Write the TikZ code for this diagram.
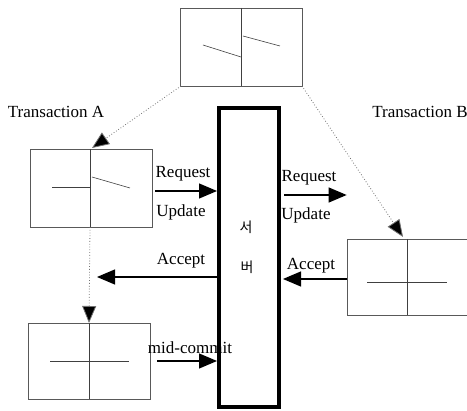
\documentclass[tikz,border=0pt]{standalone}
\usepackage{fontspec}
\setmainfont{Liberation Serif}
\newfontfamily\krfont{Noto Sans CJK KR}
\usetikzlibrary{arrows.meta}
\begin{document}
\begin{tikzpicture}[x=1pt,y=-1pt,
  txbox/.style={draw=black!65,line width=0.7pt,rectangle,minimum width=122pt,minimum height=78pt,inner sep=0pt},
  part/.style={draw=black!75,line width=0.6pt},
  arr/.style={draw=black,line width=1.2pt,-{Triangle[length=18pt,width=15pt]}},
  dotarr/.style={draw=black!55,line width=0.8pt,dotted,-{Triangle[length=17pt,width=14pt,fill=black]}},
  lbl/.style={font=\fontsize{17}{19}\selectfont,inner sep=0pt},
  kr/.style={font=\krfont\fontsize{14}{16}\selectfont,inner sep=0pt}]
\useasboundingbox (0,0) rectangle (467,411);
% boxes
\node[txbox] (top) at (241.5,47) {};
\node[txbox] (boxA) at (91,188) {};
\node[txbox,minimum height=76pt] (boxC) at (89,361) {};
\node[txbox,minimum height=76pt] (boxB) at (408,277) {};
\node[draw=black,line width=4pt,rectangle,minimum width=60pt,minimum height=299pt,inner sep=0pt] (server) at (249,257.5) {};
% partitions inside boxes
\draw[part] (241,8) -- (241,86);
\draw[part] (203,45) -- (241,57);
\draw[part] (243,36) -- (280,46);
\draw[part] (90,149) -- (90,227);
\draw[part] (52,187) -- (90,187);
\draw[part] (92,177) -- (130,188);
\draw[part] (89,323) -- (89,399);
\draw[part] (50,361) -- (129,361);
\draw[part] (407,239) -- (407,315);
\draw[part] (367,282) -- (447,282);
% coordinates
\coordinate (topSW) at (181,86);
\coordinate (topSE) at (302,86);
\coordinate (aTop) at (92,148);
\coordinate (bTop) at (403,237);
\coordinate (aDiv) at (90,227);
\coordinate (cTop) at (89,323);
\coordinate (accAend) at (97,277);
% dotted arrows
\draw[dotarr] (topSW) -- (aTop);
\draw[dotarr] (topSE) -- (bTop);
\draw[dotarr] (aDiv) -- (cTop);
% solid arrows
\draw[arr] ([xshift=3pt]boxA.east |- 0,191) -- (server.west |- 0,191);
\draw[arr] ([xshift=3pt]server.east |- 0,195) -- (boxB.west |- 0,195);
\draw[arr] (server.west |- 0,277) -- (accAend);
\draw[arr] (boxB.west |- 0,279) -- ([xshift=2pt]server.east |- 0,279);
\draw[arr] ([xshift=7pt]boxC.east |- 0,361) -- (server.west |- 0,361);
% labels
\node[lbl] (tA) at (56,112) {Transaction A};
\node[lbl] (tB) at (420,112) {Transaction B};
\node[lbl] (rqA) at (183,174) {Request};
\node[lbl] (upA) at (181,212) {Update};
\node[lbl] (rqB) at (309,178) {Request};
\node[lbl] (upB) at (306,215) {Update};
\node[lbl] (acA) at (181,261) {Accept};
\node[lbl] (acB) at (311,266) {Accept};
\node[lbl] (mc) at (190,348) {mid-commit};
\node[kr] (s1) at (246,227) {서};
\node[kr] (s2) at (247,267) {버};
\end{tikzpicture}
\end{document}
